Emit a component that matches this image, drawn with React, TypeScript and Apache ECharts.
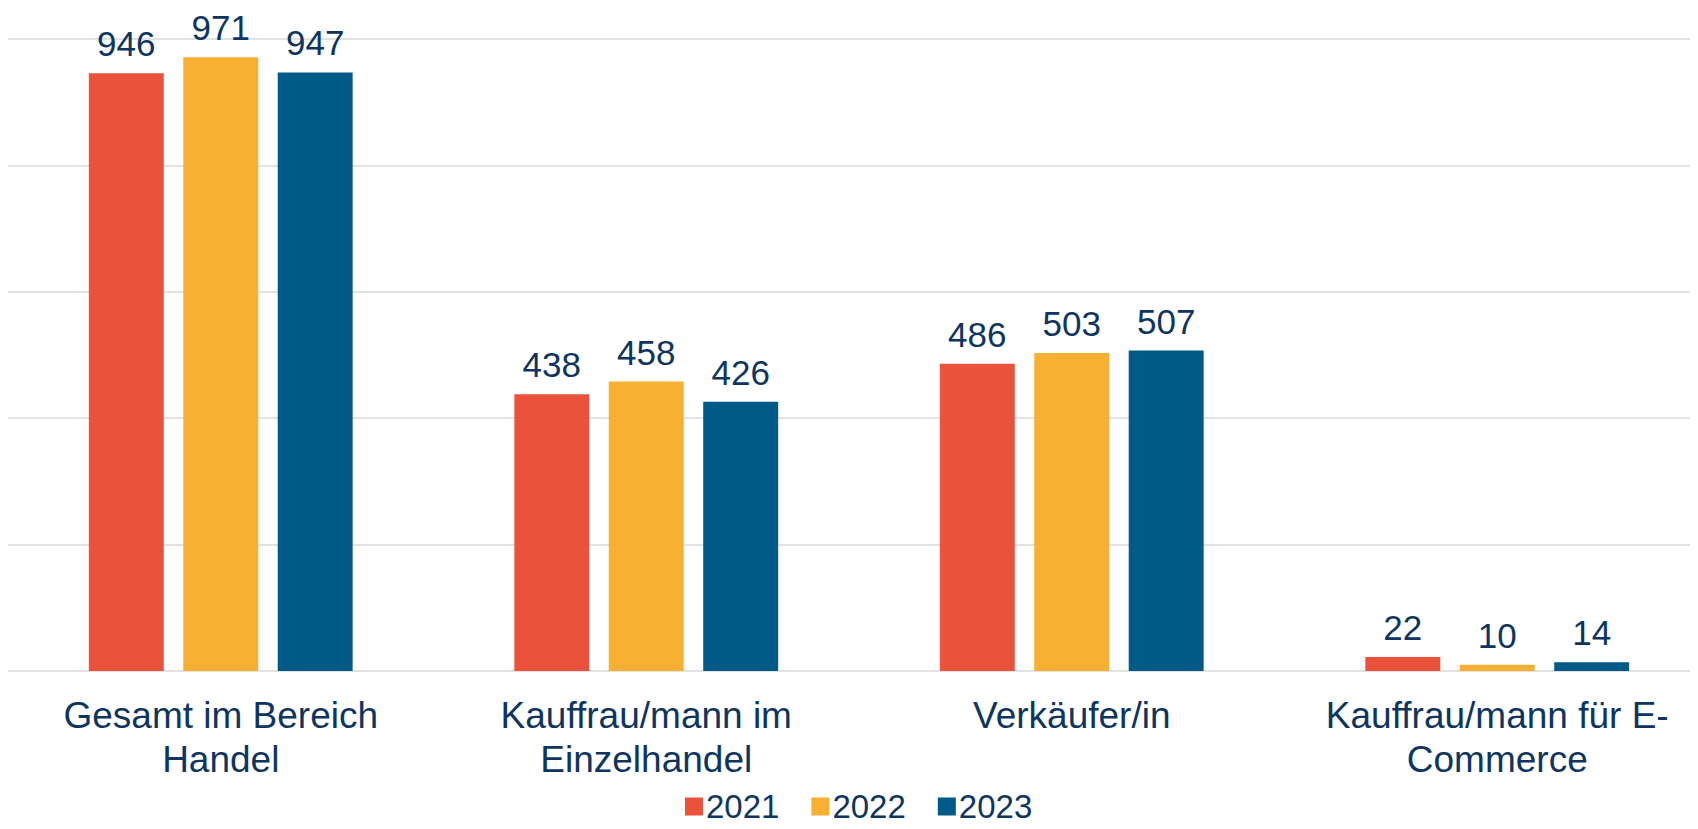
import React, { useEffect, useRef } from "react";
import * as echarts from "echarts";

const categories = [
  "Gesamt im Bereich\nHandel",
  "Kauffrau/mann im\nEinzelhandel",
  "Verkäufer/in",
  "Kauffrau/mann für E-\nCommerce",
];
const seriesNames = ["2021", "2022", "2023"];
const values2021 = [946, 438, 486, 22];
const values2022 = [971, 458, 503, 10];
const values2023 = [947, 426, 507, 14];
const colors = ["#EA523B", "#F7B032", "#005A87"];
const textColor = "#0E3560";
const font = "Liberation Sans, Arial, sans-serif";

export default function App() {
  const ref = useRef<HTMLDivElement>(null);
  useEffect(() => {
    if (!ref.current) return;
    const chart = echarts.init(ref.current, null, { renderer: "svg" });
    const data = [values2021, values2022, values2023];
    chart.setOption({
      animation: false,
      textStyle: { fontFamily: font },
      grid: { left: 8, right: 0, top: 39, bottom: 158, containLabel: false },
      legend: {
        data: seriesNames,
        bottom: 1,
        left: 680,
        itemWidth: 18,
        itemHeight: 18,
        itemGap: 32,
        icon: "rect",
        textStyle: { fontSize: 33, color: textColor, fontFamily: font, padding: [0, 0, 0, -2] },
      },
      xAxis: {
        type: "category",
        data: categories,
        axisLine: { show: false },
        axisTick: { show: false },
        axisLabel: {
          interval: 0,
          fontSize: 37,
          lineHeight: 44,
          color: textColor,
          margin: 22,
          fontFamily: font,
        },
      },
      yAxis: {
        type: "value",
        min: 0,
        max: 1000,
        interval: 200,
        axisLabel: { show: false },
        axisLine: { show: false },
        axisTick: { show: false },
        splitLine: { lineStyle: { color: "#D9D9D9", width: 1.5 } },
      },
      series: seriesNames.map((name, i) => ({
        name,
        type: "bar",
        data: data[i],
        barGap: "26%",
        barCategoryGap: "38%",
        itemStyle: { color: colors[i] },
        label: {
          show: true,
          position: "top",
          distance: 12,
          fontSize: 35,
          color: textColor,
          fontFamily: font,
        },
      })),
    });
    return () => chart.dispose();
  }, []);
  return (
    <div style={{ width: 1698, height: 829, margin: -8, overflow: "hidden" }}>
      <div ref={ref} style={{ width: 1710, height: 829 }} />
    </div>
  );
}
